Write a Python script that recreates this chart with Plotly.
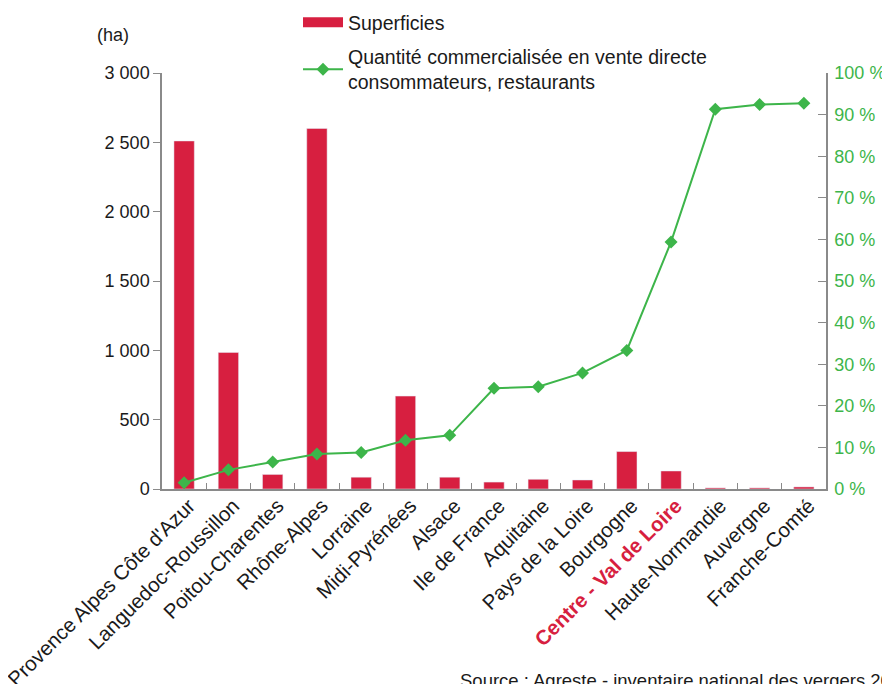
import plotly.graph_objects as go

regions = ["Provence Alpes Côte d'Azur", "Languedoc-Roussillon", "Poitou-Charentes", "Rhône-Alpes",
           "Lorraine", "Midi-Pyrénées", "Alsace", "Ile de France", "Aquitaine", "Pays de la Loire",
           "Bourgogne", "Centre - Val de Loire", "Haute-Normandie", "Auvergne", "Franche-Comté"]
superficies = [2510, 985, 105, 2600, 85, 670, 85, 50, 70, 65, 270, 130, 8, 8, 15]
vente_directe = [1.5, 4.6, 6.5, 8.4, 8.8, 11.7, 12.9, 24.2, 24.6, 27.9, 33.3, 59.4, 91.3, 92.4, 92.7]

left_vals = [0, 500, 1000, 1500, 2000, 2500, 3000]
left_text = ["0", "500", "1 000", "1 500", "2 000", "2 500", "3 000"]
right_vals = [0, 10, 20, 30, 40, 50, 60, 70, 80, 90, 100]
right_text = [f"{v} %" for v in right_vals]

RED = "#d71f40"
GREEN = "#3db54a"
AXIS = "#8a8a8a"
FONT = "Liberation Sans, Arial, sans-serif"

ticktext = [f"<b><span style='color:{RED}'>{r}</span></b>" if r.startswith("Centre") else r for r in regions]

# page body adds an 8px offset to the figure in the screenshot
OFF = 8
W, H = 890, 684
# target screen positions of the plot area
SL, SR, ST, SB = 162, 826, 73, 489
L = SL - OFF
R = W - (SR - OFF)
T = ST - OFF
B = H - (SB - OFF)
w_plot = W - L - R
h_plot = H - T - B


def px_x(px):
    return (px - OFF - L) / w_plot


def px_y(py):
    return (H - B - (py - OFF)) / h_plot


fig = go.Figure()
fig.add_trace(go.Bar(x=regions, y=superficies, name="Superficies", marker_color=RED,
                     width=0.46, yaxis="y", showlegend=False, legendgroup="a"))
# legend-only swatch for the bars (wide rectangle as in the reference)
fig.add_trace(go.Scatter(x=[None], y=[None], mode="lines", name="Superficies",
                         line=dict(color=RED, width=12), showlegend=True, legendgroup="a"))
fig.add_trace(go.Scatter(x=regions, y=vente_directe, yaxis="y2", mode="lines+markers",
                         name="Quantité commercialisée en vente directe<br>consommateurs, restaurants",
                         line=dict(color=GREEN, width=2), legendgroup="b",
                         marker=dict(symbol="diamond", size=10, color=GREEN)))

fig.update_layout(
    width=W, height=H,
    margin=dict(l=L, r=R, t=T, b=B, autoexpand=False),
    paper_bgcolor="white", plot_bgcolor="white",
    font=dict(family=FONT, size=18, color="#1a1a1a"),
    showlegend=True,
    legend=dict(x=px_x(298), y=px_y(3), xanchor="left", yanchor="top", bgcolor="rgba(0,0,0,0)",
                font=dict(size=19.5), itemwidth=40, tracegroupgap=6, traceorder="grouped"),
    xaxis=dict(tickmode="array", tickvals=regions, ticktext=ticktext, tickangle=-45,
               range=[-0.5, len(regions) - 0.5],
               showline=True, linecolor=AXIS, linewidth=1.5, ticks="inside", tickson="boundaries",
               ticklen=6, tickcolor=AXIS, showgrid=False, tickfont=dict(size=20.5),
               ticklabelshift=5, ticklabelstandoff=-5, automargin=False),
    yaxis=dict(range=[0, 3000], tickvals=left_vals, ticktext=left_text, showline=True,
               linecolor=AXIS, linewidth=1.5, ticks="outside", ticklen=7, tickcolor=AXIS,
               showgrid=False, zeroline=False, tickfont=dict(size=18), automargin=False),
    yaxis2=dict(range=[0, 100], tickvals=right_vals, ticktext=right_text, overlaying="y",
                side="right", showline=True, linecolor=AXIS, linewidth=1.5, ticks="inside",
                ticklen=8, tickcolor=AXIS, showgrid=False, zeroline=False, ticklabelstandoff=3,
                tickfont=dict(size=18, color=GREEN), automargin=False),
)
fig.add_annotation(text="(ha)", x=px_x(113), y=px_y(35), xref="paper", yref="paper",
                   showarrow=False, xanchor="center", yanchor="middle", font=dict(size=18))
fig.add_annotation(text="Source : Agreste - inventaire national des vergers 2013",
                   x=px_x(458), y=px_y(680), xref="paper", yref="paper",
                   showarrow=False, xanchor="left", yanchor="middle", font=dict(size=18.5))

fig.write_html("out.html")
